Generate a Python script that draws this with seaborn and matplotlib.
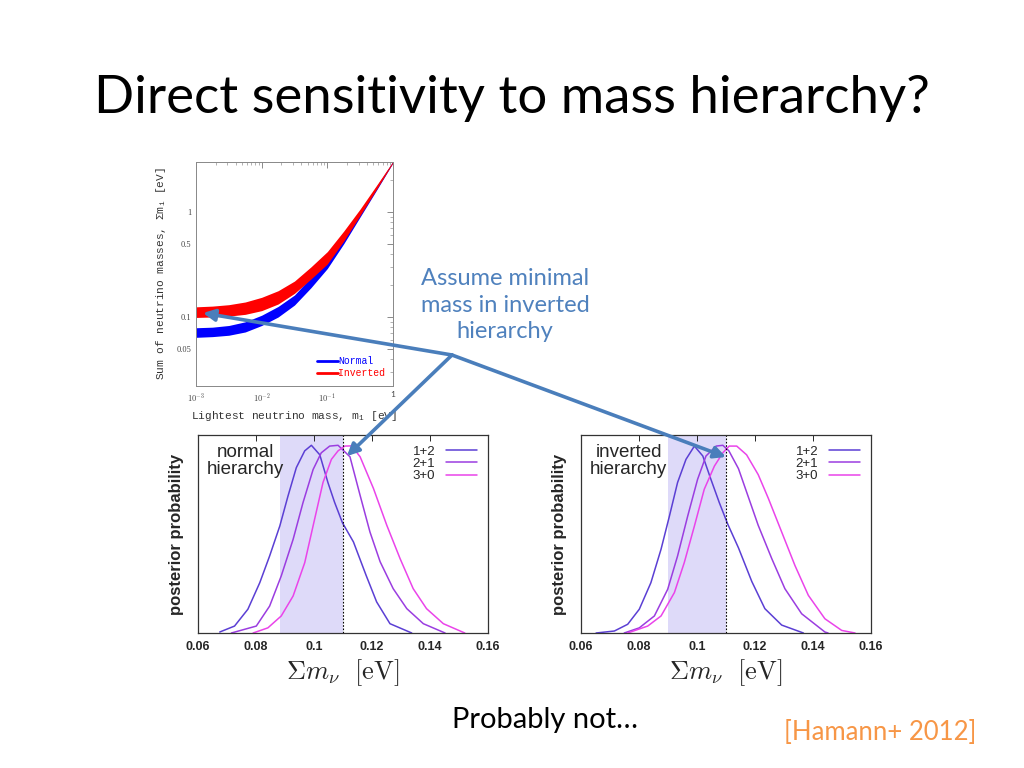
import numpy as np
import pandas as pd
import matplotlib
matplotlib.use("Agg")
import matplotlib.pyplot as plt
import seaborn as sns

# ---- data ----
# top panel: sum of neutrino masses vs lightest mass (band edges, quarter-decade steps)
m_light = [0.001, 0.00178, 0.00316, 0.00562, 0.01, 0.0178, 0.0316, 0.0562,
           0.1, 0.178, 0.316, 0.562, 1.0]
normal_lo = [0.064, 0.065, 0.067, 0.072, 0.083, 0.100, 0.130, 0.19,
             0.29, 0.50, 0.90, 1.62, 2.95]
normal_hi = [0.079, 0.080, 0.083, 0.090, 0.104, 0.126, 0.162, 0.24,
             0.355, 0.60, 1.02, 1.76, 3.05]
inverted_lo = [0.099, 0.100, 0.102, 0.106, 0.115, 0.133, 0.168, 0.23,
               0.32, 0.53, 0.93, 1.65, 2.95]
inverted_hi = [0.125, 0.127, 0.131, 0.139, 0.154, 0.178, 0.22, 0.30,
               0.42, 0.66, 1.07, 1.80, 3.05]

# posterior curves, normal hierarchy (peak-normalised heights)
nh_12_x = [0.0675, 0.0726, 0.0772, 0.0813, 0.0847, 0.0882, 0.0910, 0.0939, 0.0968,
           0.0991, 0.1020, 0.1048, 0.1071, 0.1098, 0.1136, 0.118, 0.1216, 0.1262, 0.1337]
nh_12_y = [0.005, 0.035, 0.12, 0.254, 0.389, 0.54, 0.69, 0.835, 0.92,
           0.948, 0.90, 0.76, 0.66, 0.557, 0.46, 0.29, 0.157, 0.047, 0.0]
nh_21_x = [0.0715, 0.0801, 0.0847, 0.0887, 0.0928, 0.0962, 0.0997, 0.1025, 0.1054,
           0.1083, 0.1124, 0.1159, 0.1193, 0.1228, 0.1273, 0.132, 0.1377, 0.1452]
nh_21_y = [0.0, 0.035, 0.136, 0.288, 0.473, 0.658, 0.826, 0.91, 0.944,
           0.948, 0.89, 0.695, 0.51, 0.36, 0.224, 0.123, 0.047, 0.0]
nh_30_x = [0.0790, 0.0841, 0.0887, 0.0928, 0.0968, 0.1002, 0.1031, 0.1060, 0.1083,
           0.1106, 0.1130, 0.1159, 0.1205, 0.1251, 0.1297, 0.1342, 0.1388, 0.1446, 0.152]
nh_30_y = [0.0, 0.026, 0.086, 0.187, 0.355, 0.574, 0.76, 0.877, 0.92,
           0.944, 0.945, 0.89, 0.73, 0.544, 0.375, 0.224, 0.123, 0.047, 0.0]

# posterior curves, inverted hierarchy
ih_12_x = [0.0652, 0.0715, 0.0761, 0.0801, 0.0841, 0.0876, 0.0905, 0.0933, 0.0962,
           0.0991, 0.1020, 0.1048, 0.1077, 0.1106, 0.1143, 0.1189, 0.1234, 0.1292, 0.1367]
ih_12_y = [0.0, 0.01, 0.044, 0.12, 0.254, 0.423, 0.591, 0.76, 0.877,
           0.944, 0.894, 0.776, 0.658, 0.55, 0.43, 0.26, 0.123, 0.04, 0.0]
ih_21_x = [0.0749, 0.0801, 0.0853, 0.0899, 0.0933, 0.0968, 0.1002, 0.1031, 0.1066,
           0.1089, 0.1110, 0.1143, 0.1211, 0.1258, 0.1303, 0.1361, 0.1441, 0.1452]
ih_21_y = [0.0, 0.026, 0.086, 0.221, 0.389, 0.591, 0.776, 0.894, 0.944,
           0.948, 0.92, 0.83, 0.544, 0.375, 0.224, 0.097, 0.005, 0.0]
ih_30_x = [0.0761, 0.0830, 0.0876, 0.0922, 0.0956, 0.0991, 0.1025, 0.1060, 0.1089,
           0.1111, 0.1137, 0.1171, 0.1211, 0.1246, 0.1292, 0.1338, 0.1384, 0.1441,
           0.1499, 0.1545]
ih_30_y = [0.0, 0.035, 0.086, 0.204, 0.355, 0.54, 0.726, 0.843, 0.91,
           0.944, 0.944, 0.90, 0.80, 0.68, 0.51, 0.34, 0.19, 0.072, 0.013, 0.0]

series_labels = ["1+2", "2+1", "3+0"]
series_colors = ["#5b3fd4", "#9b3de0", "#ea44ea"]
nh_band = (0.0883, 0.110)
ih_band = (0.090, 0.110)
sum_limit = 0.11
x_ticks = [0.06, 0.08, 0.1, 0.12, 0.14, 0.16]
x_tick_labels = ["0.06", "0.08", "0.1", "0.12", "0.14", "0.16"]

# ---- style ----
sns.set_style("white")
plt.rcParams["font.family"] = ["Lato", "DejaVu Sans"]
plt.rcParams["mathtext.fontset"] = "cm"

fig = plt.figure(figsize=(10.24, 7.68), dpi=100)

# ---- top panel (log-log) ----
mono = ["Liberation Mono", "DejaVu Sans Mono"]
serif = ["Liberation Serif", "DejaVu Serif"]
ax0 = fig.add_axes([196 / 1024, 1 - 386 / 768, 197 / 1024, 224 / 768])
ax0.set_xscale("log")
ax0.set_yscale("log")
ax0.fill_between(m_light, normal_lo, normal_hi, color="#0000ff", lw=0)
ax0.fill_between(m_light, inverted_lo, inverted_hi, color="#ff0000", lw=0)
ax0.plot([], [], color="#0000ff", lw=2, label="Normal")
ax0.plot([], [], color="#ff0000", lw=2, label="Inverted")
ax0.set_xlim(1e-3, 1)
ax0.set_ylim(0.022, 3.0)
ax0.set_xticks([1e-3, 1e-2, 1e-1, 1])
ax0.set_xticklabels(["$10^{-3}$", "$10^{-2}$", "$10^{-1}$", "1"])
ax0.set_yticks([0.05, 0.1, 0.5, 1])
ax0.set_yticklabels(["0.05", "0.1", "0.5", "1"])
ax0.tick_params(which="both", direction="in", top=True, right=True,
                labelsize=6, colors="#777777", labelcolor="#444444")
ax0.tick_params(which="major", length=4, width=0.6)
ax0.tick_params(which="minor", length=2, width=0.4)
for lab in ax0.get_yticklabels():
    lab.set_family(serif)
for s in ax0.spines.values():
    s.set_color("#888888")
    s.set_linewidth(0.7)
ax0.set_xlabel("Lightest neutrino mass, m$_{\\mathregular{1}}$ [eV]",
               family=mono, fontsize=8, color="#333333", labelpad=4)
ax0.set_ylabel("Sum of neutrino masses, \u03a3m$_{\\mathregular{i}}$ [eV]",
               family=mono, fontsize=8, color="#333333", labelpad=6)
ax0.legend(loc="lower right", frameon=False, labelcolor="linecolor",
           prop={"family": mono, "size": 7}, handlelength=2.2,
           handletextpad=0.0, borderaxespad=0.4, labelspacing=0.2)


# ---- posterior panels ----
def posterior_panel(rect, curves, band, name):
    ax = fig.add_axes(rect)
    ax.axvspan(band[0], band[1], color="#dedaf9", lw=0, zorder=0)
    for (xs, ys), lab, col in zip(curves, series_labels, series_colors):
        df = pd.DataFrame({"x": xs, "y": ys})
        sns.lineplot(data=df, x="x", y="y", color=col, lw=1.1, label=lab,
                     ax=ax, sort=False)
    ax.axvline(sum_limit, color="black", ls=(0, (1.5, 1.5)), lw=0.8)
    ax.set_xlim(0.06, 0.16)
    ax.set_ylim(0, 1.0)
    ax.set_xticks(x_ticks)
    ax.set_xticklabels(x_tick_labels, family=["Liberation Sans"],
                       fontweight="bold", fontsize=9)
    ax.set_yticks([])
    ax.tick_params(axis="x", direction="in", top=True, length=4, width=0.7, pad=6)
    for s in ax.spines.values():
        s.set_color("#333333")
        s.set_linewidth(0.9)
    ax.set_xlabel(r"$\Sigma m_\nu\ \ [\mathrm{eV}]$", fontsize=19, labelpad=3)
    ax.set_ylabel("posterior probability", family=["Liberation Sans"],
                  fontweight="bold", fontsize=12, labelpad=10)
    ax.text(0.165, 0.955, name, transform=ax.transAxes, ha="center", va="top",
            multialignment="center", family=["Liberation Sans"],
            fontsize=13.5, linespacing=1.0)
    ax.legend(loc="upper right", frameon=False, markerfirst=False,
              prop={"family": "Liberation Sans", "size": 9.5},
              handlelength=2.4, handletextpad=0.8, labelspacing=0.0,
              borderaxespad=0.4)
    return ax


posterior_panel([198 / 1024, 1 - 633 / 768, 290 / 1024, 198 / 768],
                [(nh_12_x, nh_12_y), (nh_21_x, nh_21_y), (nh_30_x, nh_30_y)],
                nh_band, "normal\nhierarchy")
posterior_panel([581 / 1024, 1 - 633 / 768, 290 / 1024, 198 / 768],
                [(ih_12_x, ih_12_y), (ih_21_x, ih_21_y), (ih_30_x, ih_30_y)],
                ih_band, "inverted\nhierarchy")

# ---- overlay: slide text and arrows (pixel coords, y down) ----
ov = fig.add_axes([0, 0, 1, 1], zorder=10)
ov.set_xlim(0, 1024)
ov.set_ylim(768, 0)
ov.axis("off")
ov.patch.set_alpha(0)

ov.text(512, 98, "Direct sensitivity to mass hierarchy?", ha="center",
        va="center", fontsize=38, color="black")
ov.text(505, 305, "Assume minimal\nmass in inverted\nhierarchy", ha="center",
        va="center", fontsize=17, color="#4f81bd", linespacing=1.3)
ov.text(545, 720, "Probably not\u2026", ha="center", va="center",
        fontsize=21, color="black")
ov.text(880, 733, "[Hamann+ 2012]", ha="center", va="center",
        fontsize=18.5, color="#f79646")

arrow_color = "#4a7ebb"
junction = (452, 355)
tips = [(203, 313), (347, 456), (726, 457)]
for tip in tips:
    ov.annotate("", xy=tip, xytext=junction,
                arrowprops=dict(arrowstyle="-|>,head_length=0.7,head_width=0.35",
                                color=arrow_color, lw=2.6,
                                shrinkA=0, shrinkB=0))

fig.savefig("out.png", dpi=100)
